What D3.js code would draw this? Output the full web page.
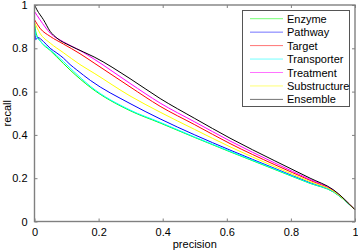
<!DOCTYPE html>
<html><head><meta charset="utf-8">
<script src="https://cdn.jsdelivr.net/npm/d3@7"></script>
<style>body{margin:0;background:#fff}svg{display:block;font-family:"Liberation Sans",Arial,sans-serif}</style>
</head><body><svg id="c" width="358" height="252"></svg>
<script>
const seriesNames = ["Enzyme","Pathway","Target","Transporter","Treatment","Substructure","Ensemble"];
const seriesColors = ["#00ff00","#0000ff","#ff0000","#00ffff","#ff00ff","#ffff00","#000000"];
const tickValues = [0,0.2,0.4,0.6,0.8,1];
const tickLabels = ["0","0.2","0.4","0.6","0.8","1"];
const enzymeP   = [0,0.005,0.02,0.049,0.09,0.111,0.174,0.298,0.392,0.5,0.61,0.75,0.86,0.932,1];
const enzymeR   = [0.92,0.87,0.83,0.79,0.73,0.70,0.62,0.512,0.455,0.388,0.322,0.24,0.176,0.137,0.054];
const pathwayP  = [0,0.004,0.01,0.028,0.049,0.07,0.09,0.111,0.132,0.174,0.298,0.392,0.5,0.61,0.75,0.86,0.932,1];
const pathwayR  = [0.90,0.84,0.85,0.831,0.80,0.778,0.755,0.725,0.70,0.652,0.545,0.474,0.40,0.33,0.245,0.179,0.139,0.054];
const targetP   = [0,0.017,0.049,0.09,0.142,0.186,0.298,0.392,0.5,0.61,0.75,0.86,0.932,1];
const targetR   = [0.932,0.893,0.855,0.82,0.775,0.732,0.622,0.532,0.447,0.36,0.262,0.19,0.143,0.054];
const transporterP = [0,0.005,0.02,0.049,0.09,0.121,0.174,0.298,0.392,0.5,0.61,0.75,0.86,0.932,1];
const transporterR = [0.90,0.86,0.83,0.793,0.739,0.695,0.625,0.515,0.458,0.39,0.324,0.242,0.177,0.138,0.054];
const treatmentP = [0,0.017,0.049,0.09,0.142,0.186,0.298,0.392,0.5,0.61,0.75,0.86,0.932,1];
const treatmentR = [0.97,0.932,0.87,0.83,0.79,0.75,0.638,0.547,0.46,0.372,0.27,0.194,0.145,0.054];
const substructureP = [0,0.017,0.049,0.09,0.142,0.186,0.298,0.392,0.5,0.61,0.75,0.86,0.932,1];
const substructureR = [0.92,0.87,0.824,0.78,0.725,0.685,0.58,0.505,0.425,0.345,0.253,0.184,0.141,0.054];
const ensembleP = [0,0.0075,0.028,0.049,0.07,0.111,0.153,0.186,0.298,0.392,0.5,0.61,0.75,0.86,0.932,1];
const ensembleR = [1.0,0.978,0.932,0.878,0.847,0.812,0.783,0.76,0.66,0.568,0.476,0.385,0.28,0.2,0.147,0.054];

const allP = [enzymeP,pathwayP,targetP,transporterP,treatmentP,substructureP,ensembleP];
const allR = [enzymeR,pathwayR,targetR,transporterR,treatmentR,substructureR,ensembleR];

const svg = d3.select("#c");
const x = d3.scaleLinear().domain([0,1]).range([34.5,355]);
const y = d3.scaleLinear().domain([0,1]).range([221.5,5]);
const frame = "#808080";

const line = d3.line().x(d=>x(d[0])).y(d=>y(d[1])).curve(d3.curveMonotoneX);
const g = svg.append("g");
allP.forEach((P,i)=>{
  const pts = P.map((p,j)=>[p, allR[i][j]]);
  g.append("path").attr("d", line(pts)).attr("fill","none")
   .attr("stroke", seriesColors[i]).attr("stroke-width",1);
});

function styleAxis(sel){
  sel.select(".domain").remove();
  sel.selectAll(".tick line").attr("stroke", frame);
  sel.selectAll(".tick text").attr("fill","#000").style("font-size","11px");
}
const fmt = (d)=>tickLabels[tickValues.indexOf(d)];
svg.append("g").attr("transform",`translate(0,${y(0)})`)
  .call(d3.axisBottom(x).tickValues(tickValues).tickFormat(fmt).tickSizeInner(-3).tickPadding(7).tickSizeOuter(0))
  .call(styleAxis);
svg.append("g").attr("transform",`translate(0,${y(1)})`)
  .call(d3.axisTop(x).tickValues(tickValues).tickFormat("").tickSizeInner(-3).tickSizeOuter(0))
  .call(styleAxis);
svg.append("g").attr("transform",`translate(${x(0)},0)`)
  .call(d3.axisLeft(y).tickValues(tickValues).tickFormat(fmt).tickSizeInner(-3).tickPadding(7).tickSizeOuter(0))
  .call(styleAxis);
svg.append("g").attr("transform",`translate(${x(1)},0)`)
  .call(d3.axisRight(y).tickValues(tickValues).tickFormat("").tickSizeInner(-3).tickSizeOuter(0))
  .call(styleAxis);

svg.append("rect").attr("x",x(0)).attr("y",y(1)).attr("width",x(1)-x(0)).attr("height",y(0)-y(1))
  .attr("fill","none").attr("stroke",frame).attr("stroke-width",1.4);

svg.append("text").attr("x",(x(0)+x(1))/2).attr("y",248).attr("text-anchor","middle")
  .style("font-size","11px").text("precision");
svg.append("text").attr("transform",`translate(11,${(y(0)+y(1))/2}) rotate(-90)`).attr("text-anchor","middle")
  .style("font-size","11px").text("recall");

const lg = svg.append("g");
lg.append("rect").attr("x",242.5).attr("y",10.5).attr("width",107).attr("height",96)
  .attr("fill","#fff").attr("stroke","#555").attr("stroke-width",1);
seriesNames.forEach((n,i)=>{
  const yy = 18.7 + i*13.45;
  lg.append("line").attr("x1",250).attr("x2",283).attr("y1",yy).attr("y2",yy)
    .attr("stroke",seriesColors[i]).attr("stroke-width",1).attr("stroke-opacity",0.55);
  lg.append("text").attr("x",287).attr("y",yy+4).style("font-size","11px").text(n);
});
</script></body></html>
